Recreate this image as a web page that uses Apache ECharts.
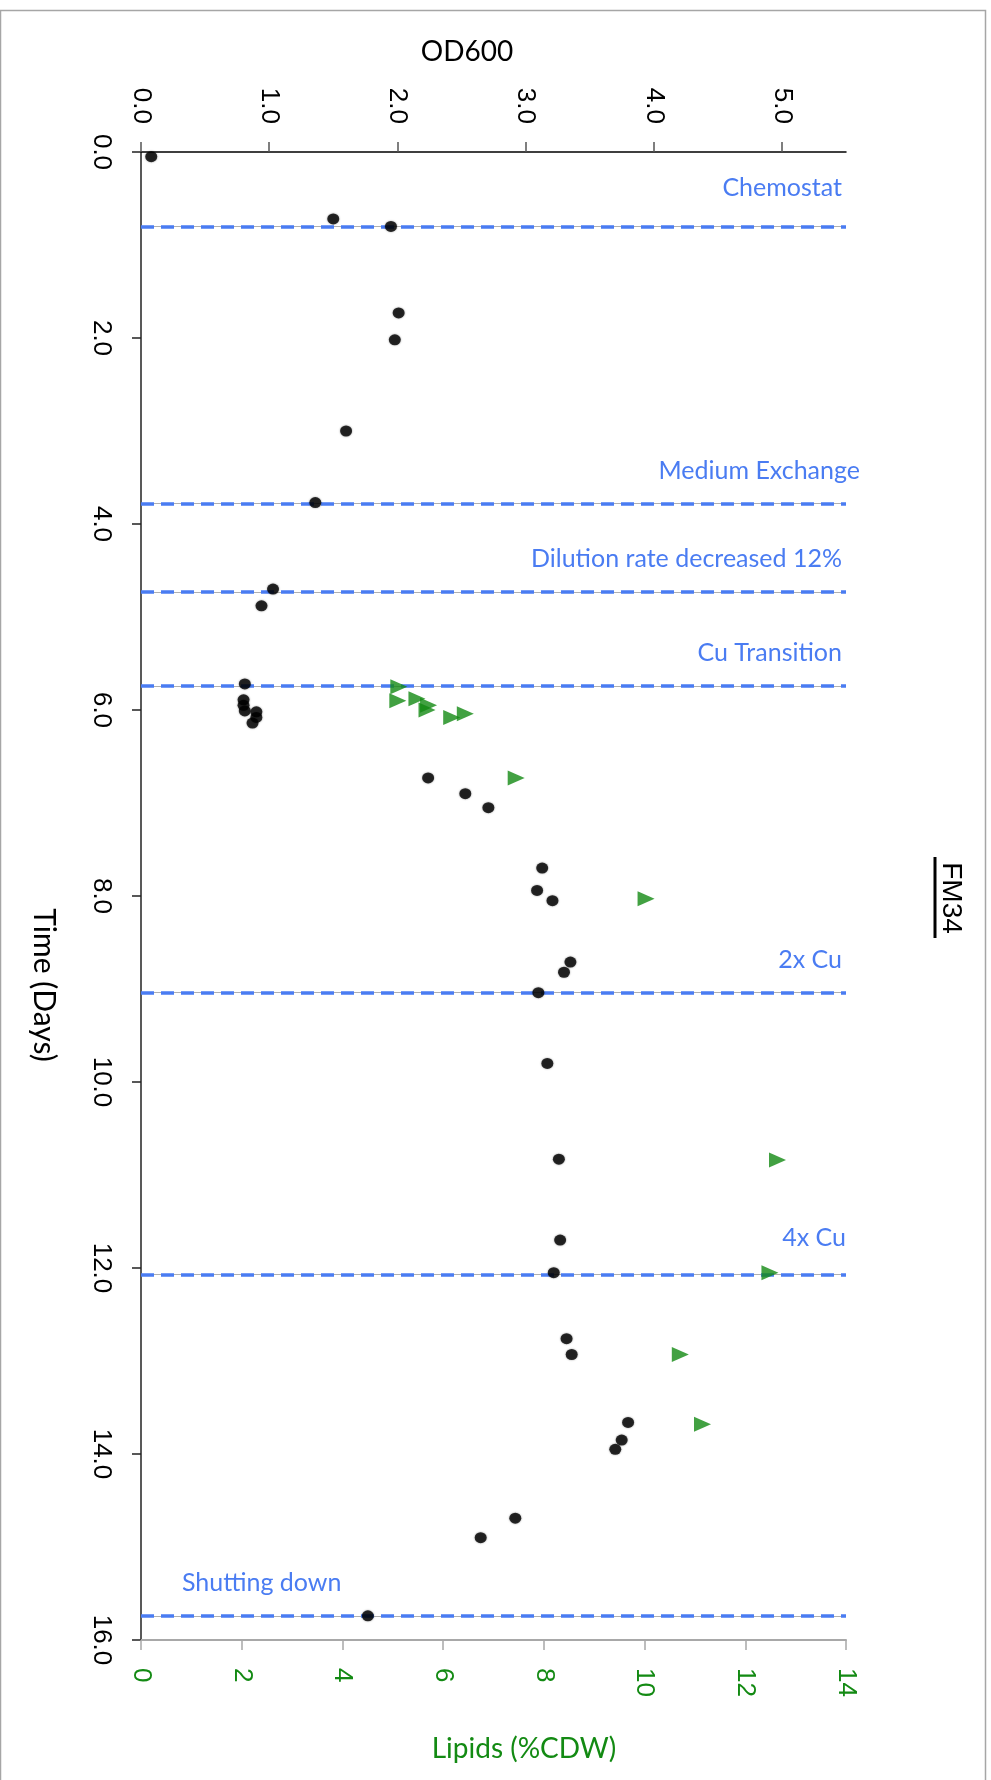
<!DOCTYPE html>
<html>
<head>
<meta charset="utf-8">
<script src="https://cdn.jsdelivr.net/npm/echarts@6/dist/echarts.min.js"></script>
<style>
  html, body { margin: 0; padding: 0; background: #ffffff; }
  #chart { width: 991px; height: 1780px; }
</style>
</head>
<body>
<div id="chart"></div>
<script>
// FM34 run: optical density and lipid content over time (days)
const odDays = [0.05, 0.72, 0.80, 1.73, 2.02, 3.00, 3.77, 4.70, 4.88,
  5.72, 5.89, 5.95, 6.01, 6.02, 6.08, 6.14,
  6.73, 6.90, 7.05, 7.70, 7.94, 8.05, 8.71, 8.82, 9.04, 9.80,
  10.83, 11.70, 12.05, 12.76, 12.93, 13.66, 13.85, 13.95, 14.69, 14.90, 15.74];
const odValues = [0.08, 1.50, 1.95, 2.01, 1.98, 1.60, 1.36, 1.03, 0.94,
  0.81, 0.80, 0.80, 0.81, 0.90, 0.90, 0.87,
  2.24, 2.53, 2.71, 3.13, 3.09, 3.21, 3.35, 3.30, 3.10, 3.17,
  3.26, 3.27, 3.22, 3.32, 3.36, 3.80, 3.75, 3.70, 2.92, 2.65, 1.77];

const lipidDays = [5.75, 5.90, 5.88, 5.95, 6.00, 6.08, 6.04, 6.73, 8.03, 10.84, 12.05, 12.93, 13.68];
const lipidValues = [5.12, 5.10, 5.48, 5.71, 5.68, 6.17, 6.44, 7.45, 10.03, 12.64, 12.49, 10.71, 11.15];

const eventDays = [0.80, 3.78, 4.73, 5.74, 9.04, 12.07, 15.74];
const eventLabels = ['Chemostat', 'Medium Exchange', 'Dilution rate decreased 12%',
  'Cu Transition', '2x Cu', '4x Cu', 'Shutting down'];

const odTicks = [0, 1, 2, 3, 4, 5];

const TICK_FONT = 'Liberation Sans, Arial, sans-serif';
const TITLE_FONT = 'Lato, "Open Sans", sans-serif';
const EVENT_BLUE = '#4a7cf2';
const LIPID_GREEN = '#138a13';

const odPoints = odDays.map((d, i) => [odValues[i], d]);
const lipidPoints = lipidDays.map((d, i) => [lipidValues[i], d]);

// label placement per event: [along-line offset, height above line]
const eventLabelPlace = {
  'Chemostat': { position: 'insideEndTop', distance: [4, 26] },
  'Medium Exchange': { position: 'insideEndTop', distance: [-14, 20] },
  '4x Cu': { position: 'insideEndTop', distance: [0, 24] },
  'Shutting down': { position: 'insideStartTop', distance: [41, 20] }
};

const eventLines = eventDays.map((d, i) => {
  const item = { yAxis: d, name: eventLabels[i] };
  if (eventLabelPlace[eventLabels[i]]) item.label = eventLabelPlace[eventLabels[i]];
  return item;
});
const eventUnderlay = eventDays.map(d => ({ yAxis: d }));

const chart = echarts.init(document.getElementById('chart'), null, { renderer: 'canvas' });

chart.setOption({
  animation: false,
  backgroundColor: '#ffffff',
  grid: { left: 141, top: 152, right: 145, bottom: 140, containLabel: false },
  xAxis: [
    {
      type: 'value', position: 'top', min: 0, max: 5.5,
      axisLine: { show: true, lineStyle: { color: '#000000', width: 1.5 } },
      axisTick: { show: true, inside: false, length: 10, customValues: odTicks,
        lineStyle: { color: '#555555', width: 1.5 } },
      axisLabel: { show: true, rotate: -90, margin: 28, customValues: odTicks,
        formatter: v => v.toFixed(1),
        fontFamily: TICK_FONT, fontSize: 26, color: '#000000' },
      splitLine: { show: false }
    },
    {
      type: 'value', position: 'bottom', min: 0, max: 14, interval: 2,
      axisLine: { show: true, lineStyle: { color: '#a8a8a8', width: 2 } },
      axisTick: { show: true, inside: false, length: 10, lineStyle: { color: '#a8a8a8', width: 1.5 } },
      axisLabel: { show: true, rotate: -90, margin: 28,
        fontFamily: TICK_FONT, fontSize: 26, color: LIPID_GREEN },
      splitLine: { show: false }
    }
  ],
  yAxis: {
    type: 'value', inverse: true, min: 0, max: 16, interval: 2, position: 'left',
    axisLine: { show: true, lineStyle: { color: '#222222', width: 1.5 } },
    axisTick: { show: true, inside: false, length: 9, lineStyle: { color: '#222222', width: 1.5 } },
    axisLabel: { show: true, rotate: -90, margin: 27, formatter: v => v.toFixed(1),
      fontFamily: TICK_FONT, fontSize: 26, color: '#000000' },
    splitLine: { show: false }
  },
  series: [
    {
      name: 'OD600', type: 'scatter', xAxisIndex: 0, yAxisIndex: 0, z: 3,
      symbol: 'circle', symbolSize: [12, 11],
      itemStyle: { color: '#000000', shadowBlur: 2, shadowColor: 'rgba(0,0,0,0.5)' },
      data: odPoints,
      markLine: {
        silent: true, symbol: 'none', z: 1,
        lineStyle: { color: EVENT_BLUE, width: 3.5, type: [13, 7] },
        label: {
          show: true, position: 'insideEndTop', distance: [4, 20], formatter: '{b}',
          fontFamily: TITLE_FONT, fontSize: 25, color: EVENT_BLUE
        },
        emphasis: { disabled: true },
        data: eventLines
      }
    },
    {
      name: 'Lipids', type: 'scatter', xAxisIndex: 1, yAxisIndex: 0, z: 4,
      symbol: 'triangle', symbolSize: [15, 17], symbolRotate: -90,
      itemStyle: { color: LIPID_GREEN },
      data: lipidPoints,
      markLine: {
        silent: true, symbol: 'none', z: 0,
        lineStyle: { color: '#b0b0b0', width: 1, type: 'solid' },
        label: { show: false },
        emphasis: { disabled: true },
        data: eventUnderlay
      }
    }
  ],
  graphic: [
    { type: 'rect', z: -1, silent: true,
      shape: { x: 0.5, y: 10.5, width: 985, height: 1800 },
      style: { fill: 'none', stroke: '#a6a6a6', lineWidth: 1.5 } },
    { type: 'text', x: 467, y: 52, silent: true,
      style: { text: 'OD600', x: 0, y: 0, textAlign: 'center', textVerticalAlign: 'middle',
        font: '28px ' + TITLE_FONT, fill: '#000000' } },
    { type: 'text', x: 524, y: 1749, silent: true,
      style: { text: 'Lipids (%CDW)', x: 0, y: 0, textAlign: 'center', textVerticalAlign: 'middle',
        font: '28px ' + TITLE_FONT, fill: LIPID_GREEN } },
    { type: 'text', x: 44, y: 985, rotation: -Math.PI / 2, silent: true,
      style: { text: 'Time (Days)', x: 0, y: 0, textAlign: 'center', textVerticalAlign: 'middle',
        font: '30px ' + TITLE_FONT, fill: '#000000' } },
    { type: 'text', x: 951, y: 898, rotation: -Math.PI / 2, silent: true,
      style: { text: 'FM34', x: 0, y: 0, textAlign: 'center', textVerticalAlign: 'middle',
        font: '28px ' + TICK_FONT, fill: '#000000' } },
    { type: 'line', silent: true,
      shape: { x1: 935, y1: 857, x2: 935, y2: 938 },
      style: { stroke: '#000000', lineWidth: 3 } }
  ]
});
</script>
</body>
</html>
